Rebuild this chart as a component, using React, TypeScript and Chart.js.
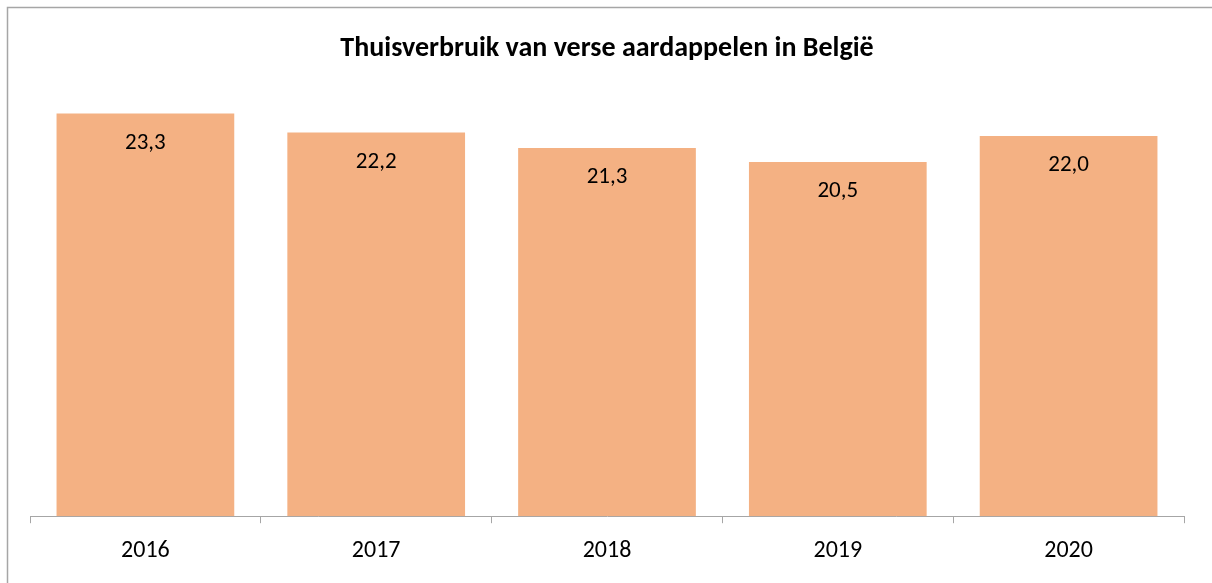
import React, { useEffect, useRef } from "react";
import { Chart, registerables } from "chart.js";

Chart.register(...registerables);

const categories = ["2016", "2017", "2018", "2019", "2020"];
const values = [23.3, 22.2, 21.3, 20.5, 22.0];
const titleText = "Thuisverbruik van verse aardappelen in België";
const yMin = 0;
const yMax = 25;

const FONT = "Carlito, Lato, 'Open Sans', sans-serif";

const borderPlugin = {
  id: "outerBorder",
  beforeDraw(chart: any) {
    const ctx = chart.ctx;
    ctx.save();
    ctx.fillStyle = "#ffffff";
    ctx.fillRect(0, 0, chart.width, chart.height);
    ctx.strokeStyle = "#A6A6A6";
    ctx.lineWidth = 1.5;
    ctx.beginPath();
    ctx.moveTo(7.5, chart.height + 5);
    ctx.lineTo(7.5, 7.5);
    ctx.lineTo(chart.width + 5, 7.5);
    ctx.stroke();
    ctx.restore();
  },
};

const labelPlugin = {
  id: "valueLabels",
  afterDatasetsDraw(chart: any) {
    const ctx = chart.ctx;
    const meta = chart.getDatasetMeta(0);
    ctx.save();
    ctx.font = `23px ${FONT}`;
    ctx.fillStyle = "#000000";
    ctx.textAlign = "center";
    ctx.textBaseline = "middle";
    meta.data.forEach((bar: any, i: number) => {
      const v = values[i];
      ctx.fillText(v.toFixed(1).replace(".", ","), bar.x, bar.y + 29.5);
    });
    ctx.restore();
  },
};

export default function App() {
  const ref = useRef<HTMLCanvasElement | null>(null);

  useEffect(() => {
    document.body.style.margin = "0";
    document.body.style.overflow = "hidden";
    if (!ref.current) return;
    const chart = new Chart(ref.current, {
      type: "bar",
      data: {
        labels: categories,
        datasets: [
          {
            data: values,
            backgroundColor: "#F4B183",
            borderWidth: 0,
            categoryPercentage: 1,
            barPercentage: 0.77,
          },
        ],
      },
      options: {
        animation: false,
        responsive: false,
        maintainAspectRatio: false,
        layout: { padding: { left: 30, right: 28, top: 0, bottom: 4 } },
        plugins: {
          legend: { display: false },
          tooltip: { enabled: false },
          title: {
            display: true,
            text: titleText,
            color: "#000000",
            font: { family: FONT, size: 28, weight: "bold" },
            padding: { top: 32, bottom: 18.5 },
          },
        },
        scales: {
          x: {
            offset: true,
            grid: {
              offset: true,
              drawOnChartArea: false,
              drawTicks: true,
              tickLength: 7,
              color: "#A6A6A6",
            },
            border: { display: true, color: "#A6A6A6", width: 1 },
            ticks: {
              color: "#000000",
              font: { family: FONT, size: 24 },
              padding: 13.5,
            },
          },
          y: {
            display: false,
            min: yMin,
            max: yMax,
          },
        },
      },
      plugins: [borderPlugin, labelPlugin],
    });
    return () => chart.destroy();
  }, []);

  return (
    <div style={{ width: 1212, height: 583 }}>
      <canvas ref={ref} width={1212} height={583} style={{ display: "block" }} />
    </div>
  );
}
